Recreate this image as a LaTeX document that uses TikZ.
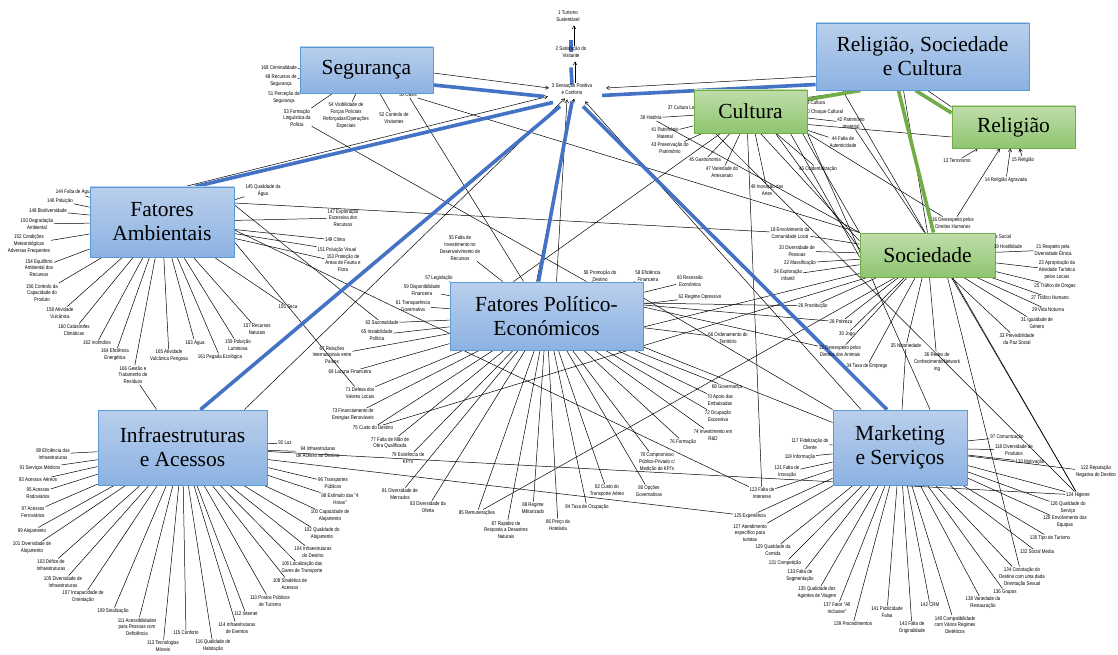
\documentclass[tikz,border=0pt]{standalone}
\usepackage{fontspec}
\setmainfont{Liberation Serif}
\newfontfamily\labfamily[FakeStretch=0.82]{Liberation Sans}
\usetikzlibrary{arrows.meta,calc}
\definecolor{boxedge}{HTML}{5B9BD5}
\definecolor{boxtop}{HTML}{B9CFEC}
\definecolor{boxbot}{HTML}{8CB2E2}
\definecolor{gedge}{HTML}{70AD47}
\definecolor{gtop}{HTML}{BFDDAB}
\definecolor{gbot}{HTML}{8FC56F}
\definecolor{linkblue}{HTML}{4472C4}
\definecolor{linkgreen}{HTML}{70AD47}
\pgfdeclarelayer{wires}
\pgfdeclarelayer{links}
\pgfsetlayers{wires,links,main}
\tikzset{
  lab/.style={font=\labfamily\fontsize{5.4}{6.9}\selectfont, align=center, inner sep=0.8pt},
  catbox/.style={draw=boxedge, line width=0.9pt, top color=boxtop, bottom color=boxbot,
    font=\fontsize{21.5}{24}\selectfont, align=center, inner sep=0pt},
  subbox/.style={catbox, draw=gedge, top color=gtop, bottom color=gbot},
  wire/.style={line width=0.5pt, black},
  feed/.style={wire, -{Straight Barb[length=3pt,width=3.5pt]}},
  bluelink/.style={line width=3.6pt, linkblue},
  greenlink/.style={line width=3.6pt, linkgreen},
}
\begin{document}
\begin{tikzpicture}[x=1pt,y=-1pt]
\useasboundingbox (0,0) rectangle (1118,655);
\begin{pgfonlayer}{wires}
\fill[white] (0,0) rectangle (1118,655);
\end{pgfonlayer}

% labels partly covered by their boxes
\node[lab,anchor=east] (l37) at (701,108) {37 Cultura Local};
\node[lab,anchor=east] (l38) at (826,103) {38 Cultura};
\node[lab,anchor=east] (l40) at (844,112) {40 Choque Cultural};
\node[lab,anchor=east] (l17) at (1012,237) {17 Paz Social};
\node[lab] (l50) at (408,95) {50 Oásis};
\node[lab,anchor=east] (l144) at (93,192) {144 Falta de Água};

% category boxes
\node[catbox,minimum width=133pt,minimum height=46pt] (seg) at (366.5,70) {Segurança};
\node[catbox,minimum width=213pt,minimum height=67pt] (rsc) at (922.5,56.5) {Religião, Sociedade\\e Cultura};
\node[subbox,minimum width=113pt,minimum height=43pt] (cul) at (750.5,111.5) {Cultura};
\node[subbox,minimum width=123pt,minimum height=42pt] (rel) at (1013.5,127) {Religião};
\node[catbox,minimum width=144pt,minimum height=70pt] (amb) at (162,222) {Fatores\\Ambientais};
\node[subbox,minimum width=135pt,minimum height=44pt] (soc) at (927.5,255) {Sociedade};
\node[catbox,minimum width=193pt,minimum height=68pt] (pol) at (546.5,316) {Fatores Político-\\Económicos};
\node[catbox,minimum width=169pt,minimum height=75pt] (inf) at (182.5,447.5) {Infraestruturas\\e Acessos};
\node[catbox,minimum width=134pt,minimum height=75pt] (mkt) at (900,447.5) {Marketing\\e Serviços};

% central chain
\node[lab] (n1) at (568,16) {1 Turismo\\Sustentável};
\node[lab] (n2) at (571,52) {2 Satisfação do\\Visitante};
\node[lab] (n3) at (572,89) {3 Sensação Positiva\\e Conforto};

% Segurança
\node[lab] (l168) at (279,68) {168 Criminalidade};
\node[lab] (l48) at (281,80.5) {48 Recursos de\\Segurança};
\node[lab] (l51) at (284,97.5) {51 Perceção da\\Segurança};
\node[lab] (l53) at (297,118) {53 Formação\\Linguística da\\Polícia};
\node[lab] (l54) at (346,115.5) {54 Visibilidade de\\Forças Policiais\\Reforçadas/Operações\\Especiais};
\node[lab] (l52) at (394,118) {52 Controlo de\\Visitantes};

% Cultura
\node[lab] (l39) at (651,118) {39 História};
\node[lab] (l41) at (665,133) {41 Património\\Material};
\node[lab] (l43) at (670,148) {43 Preservação do\\Património};
\node[lab] (l45) at (705,160) {45 Gastronomia};
\node[lab] (l47) at (722,172) {47 Variedade do\\Artesanato};
\node[lab] (l49) at (767,190) {49 Inovação das\\Artes};
\node[lab] (l46) at (818,169) {46 Ocidentalização};
\node[lab] (l44) at (843,142) {44 Falta de\\Autenticidade};
\node[lab] (l42) at (851,123) {42 Património\\Imaterial};

% Religião
\node[lab] (l13) at (957,161) {13 Terrorismo};
\node[lab] (l15) at (1023,160) {15 Religião};
\node[lab] (l14) at (1006,180) {14 Religião Agravada};
\node[lab] (l16) at (953,223) {16 Desrespeito pelos\\Direitos Humanos};

% Sociedade
\node[lab,anchor=west] (l19) at (993,247) {19 Hostilidade};
\node[lab] (l21) at (1053,250) {21 Respeito pela\\Diversidade Étnica};
\node[lab] (l23) at (1057,270) {23 Apropriação da\\Atividade Turística\\pelos Locais};
\node[lab] (l25) at (1055,286) {25 Tráfico de Drogas};
\node[lab] (l27) at (1050,298) {27 Tráfico Humano};
\node[lab] (l29) at (1048,310) {29 Vida Noturna};
\node[lab] (l31) at (1037,323) {31 Igualdade de\\Género};
\node[lab] (l33) at (1017,339) {33 Previsibilidade\\da Paz Social};
\node[lab] (l36) at (937,362) {36 Redes de\\Conhecimento/Network\\ing};
\node[lab] (l35) at (906,346) {35 Notoriedade};
\node[lab] (l34) at (867,366) {34 Taxa de Emprego};
\node[lab] (l32) at (840,351) {32 Desrespeito pelos\\Direitos dos Animais};
\node[lab] (l30) at (847,334) {30 Jogo};
\node[lab] (l28) at (841,322) {28 Pobreza};
\node[lab] (l26) at (813,306) {26 Prostituição};
\node[lab] (l24) at (788,275) {24 Exploração\\Infantil};
\node[lab] (l22) at (800,263) {22 Massificação};
\node[lab] (l20) at (797,251) {20 Diversidade de\\Pessoas};
\node[lab] (l18) at (790,233) {18 Envolvimento da\\Comunidade Local};

% Fatores Ambientais
\node[lab] (l146) at (60,201) {146 Poluição};
\node[lab] (l148) at (48,211) {148 Biodiversidade};
\node[lab] (l150) at (37,224) {150 Degradação\\Ambiental};
\node[lab] (l152) at (29,244) {152 Condições\\Meteorológicas\\Adversas Frequentes};
\node[lab] (l154) at (39,268) {154 Equilíbrio\\Ambiental dos\\Recursos};
\node[lab] (l156) at (42,293) {156 Controlo da\\Capacidade do\\Produto};
\node[lab] (l158) at (60,313) {158 Atividade\\Vulcânica};
\node[lab] (l160) at (74,330) {160 Catástrofes\\Climáticas};
\node[lab] (l162) at (97,343) {162 Incêndios};
\node[lab] (l164) at (115,355) {164 Eficiência\\Energética};
\node[lab] (l166) at (133,375) {166 Gestão e\\Tratamento de\\Resíduos};
\node[lab] (l165) at (169,356) {165 Atividade\\Vulcânica Perigosa};
\node[lab] (l163) at (195,343) {163 Água};
\node[lab] (l161) at (220,357) {161 Pegada Ecológica};
\node[lab] (l159) at (238,345) {159 Poluição\\Luminosa};
\node[lab] (l157) at (257,329) {157 Recursos\\Naturais};
\node[lab] (l155) at (288,307) {155 Seca};
\node[lab] (l145) at (263,191) {145 Qualidade da\\Água};
\node[lab] (l147) at (343,218) {147 Exploração\\Excessiva dos\\Recursos};
\node[lab] (l149) at (335,240) {149 Clima};
\node[lab] (l151) at (337,250) {151 Poluição Visual};
\node[lab] (l153) at (343,263) {153 Proteção de\\Áreas de Fauna e\\Flora};

% Fatores Político-Económicos
\node[lab] (l55) at (460,248) {55 Falta de\\Investimento no\\Desenvolvimento de\\Recursos};
\node[lab] (l57) at (439,278) {57 Legislação};
\node[lab] (l59) at (422,290) {59 Disponibilidade\\Financeira};
\node[lab] (l61) at (413,306) {61 Transparência\\Governativa};
\node[lab] (l63) at (382,323) {63 Sazonalidade};
\node[lab] (l65) at (377,335) {65 Instabilidade\\Política};
\node[lab] (l67) at (332,355) {67 Relações\\Internacionais entre\\Países};
\node[lab] (l69) at (350,372) {69 Lacuna Financeira};
\node[lab] (l71) at (360,393) {71 Defesa dos\\Valores Locais};
\node[lab] (l73) at (353,415) {73 Financiamento de\\Energias Renováveis};
\node[lab] (l75) at (373,428) {75 Custo do Destino};
\node[lab] (l77) at (390,443) {77 Falta de Mão de\\Obra Qualificada};
\node[lab] (l79) at (408,458) {79 Existência de\\KPI's};
\node[lab] (l81) at (400,494) {81 Diversidade de\\Mercados};
\node[lab] (l83) at (428,507) {83 Diversidade da\\Oferta};
\node[lab] (l85) at (477,513) {85 Remunerações};
\node[lab] (l87) at (506,530) {87 Rapidez de\\Resposta a Desastres\\Naturais};
\node[lab] (l88) at (533,508) {88 Regime\\Militarizado};
\node[lab] (l86) at (558,525) {86 Preço da\\Hotelaria};
\node[lab] (l84) at (587,507) {84 Taxa de Ocupação};
\node[lab] (l82) at (607,491) {82 Custo do\\Transporte Aéreo};
\node[lab] (l80) at (649,491) {80 Opções\\Governativas};
\node[lab] (l78) at (657,462) {78 Compromisso\\Público-Privado c/\\Medição de KPI's};
\node[lab] (l76) at (683,442) {76 Formação};
\node[lab] (l74) at (713,435) {74 Investimento em\\R\&D};
\node[lab] (l72) at (718,416) {72 Ocupação\\Excessiva};
\node[lab] (l70) at (720,400) {70 Apoio das\\Embaixadas};
\node[lab] (l68) at (727,387) {68 Governança};
\node[lab] (l66) at (728,338) {66 Ordenamento do\\Território};
\node[lab] (l62) at (700,297) {62 Regime Opressivo};
\node[lab] (l60) at (690,281) {60 Recessão\\Económica};
\node[lab] (l58) at (648,276) {58 Eficiência\\Financeira};
\node[lab] (l56) at (600,276) {56 Promoção do\\Destino};

% Infraestruturas e Acessos
\node[lab] (l89) at (53,454) {89 Eficiência das\\Infraestruturas};
\node[lab] (l91) at (40,468) {91 Serviços Médicos};
\node[lab] (l93) at (38,480) {93 Acessos Aéreos};
\node[lab] (l95) at (38,493) {95 Acessos\\Rodoviários};
\node[lab] (l97) at (33,512) {97 Acessos\\Ferroviários};
\node[lab] (l99) at (32,531) {99 Alojamento};
\node[lab] (l101) at (32,548) {101 Diversidade de\\Alojamento};
\node[lab] (l103) at (51,565) {103 Défice de\\Infraestruturas};
\node[lab] (l105) at (63,582) {105 Diversidade de\\Infraestruturas};
\node[lab] (l107) at (83,597) {107 Incapacidade de\\Orientação};
\node[lab] (l109) at (113,611) {109 Sinalização};
\node[lab] (l111) at (137,627) {111 Acessibilidades\\para Pessoas com\\Deficiência};
\node[lab] (l113) at (163,646) {113 Tecnologias\\Móveis};
\node[lab] (l115) at (186,633) {115 Conforto};
\node[lab] (l116) at (213,646) {116 Qualidade de\\Habitação};
\node[lab] (l114) at (237,628) {114 Infraestruturas\\de Eventos};
\node[lab] (l112) at (246,614) {112 Internet};
\node[lab] (l110) at (270,601) {110 Postos Públicos\\de Turismo};
\node[lab] (l108) at (290,584) {108 Sinalética de\\Acessos};
\node[lab] (l106) at (302,568) {106 Localização das\\Gares de Transporte};
\node[lab] (l104) at (313,552) {104 Infraestruturas\\do Destino};
\node[lab] (l102) at (322,534) {102 Qualidade do\\Alojamento};
\node[lab] (l100) at (330,516) {100 Capacidade de\\Alojamento};
\node[lab] (l98) at (340,499) {98 Estímulo das "4\\Horas"};
\node[lab] (l96) at (333,483) {96 Transportes\\Públicos};
\node[lab] (l94) at (318,452) {94 Infraestruturas\\de Acesso ao Destino};
\node[lab] (l92) at (285,443) {92 Luz};

% Marketing e Serviços
\node[lab] (l117) at (810,444) {117 Fidelização do\\Cliente};
\node[lab] (l119) at (800,457) {119 Informação};
\node[lab] (l121) at (787,472) {121 Falta de\\Inovação};
\node[lab] (l123) at (762,493) {123 Falta de\\Interesse};
\node[lab] (l125) at (750,516) {125 Experiência};
\node[lab] (l127) at (750,533) {127 Atendimento\\específico para\\turistas};
\node[lab] (l129) at (773,550) {129 Qualidade da\\Comida};
\node[lab] (l131) at (785,563) {131 Competição};
\node[lab] (l133) at (800,576) {133 Falta de\\Segmentação};
\node[lab] (l135) at (817,593) {135 Qualidade dos\\Agentes de Viagem};
\node[lab] (l137) at (837,608) {137 Fator "All\\Inclusive"};
\node[lab] (l139) at (853,624) {139 Procedimentos};
\node[lab] (l141) at (887,612) {141 Publicidade\\Falsa};
\node[lab] (l143) at (912,628) {143 Falta de\\Originalidade};
\node[lab] (l142) at (930,605) {142 CRM};
\node[lab] (l140) at (955,625) {140 Compatibilidade\\com Vários Regimes\\Dietéticos};
\node[lab] (l138) at (983,603) {138 Variedade da\\Restauração};
\node[lab] (l136) at (1005,592) {136 Grupos};
\node[lab] (l134) at (1022,577) {134 Conotação do\\Destino com uma dada\\Orientação Sexual};
\node[lab] (l132) at (1037,552) {132 Social Media};
\node[lab] (l130) at (1050,538) {130 Tipo de Turismo};
\node[lab] (l128) at (1065,522) {128 Envolvimento das\\Equipas};
\node[lab] (l126) at (1068,508) {126 Qualidade do\\Serviço};
\node[lab] (l124) at (1078,495) {124 Higiene};
\node[lab] (l122) at (1096,472) {122 Reputação\\Negativa do Destino};
\node[lab] (l120) at (1030,462) {120 Motivação};
\node[lab] (l118) at (1014,450) {118 Diversidade de\\Produtos};
\node[lab] (l97b) at (1007,437) {97 Comunicação};

% thin connectors from each box to its factors
\begin{pgfonlayer}{wires}
\foreach \t in {l168,l48,l51,l53,l54,l52,l50} \draw[wire] (seg) -- (\t);
\foreach \t in {l144,l146,l148,l150,l152,l154,l156,l158,l160,l162,l164,l166,l165,l163,l161,l159,l157,l155,l145,l147,l149,l151,l153}
  \draw[wire] (amb) -- (\t);
\foreach \t in {l39,l41,l43,l45,l47,l49,l46,l44,l42} \draw[wire] (cul) -- (\t);
\foreach \t in {l18,l20,l22,l24,l26,l28,l30,l32,l34,l35,l36,l33,l31,l29,l27,l25,l23,l21,l19}
  \draw[wire] (soc) -- (\t);
\foreach \t in {l55,l57,l59,l61,l63,l65,l67,l69,l71,l73,l75,l77,l79,l81,l83,l85,l87,l88,l86,l84,l82,l80,l78,l76,l74,l72,l70,l68,l66,l62,l60,l58,l56}
  \draw[wire] (pol) -- (\t);
\foreach \t in {l89,l91,l93,l95,l97,l99,l101,l103,l105,l107,l109,l111,l113,l115,l116,l114,l112,l110,l108,l106,l104,l102,l100,l98,l96,l94,l92}
  \draw[wire] (inf) -- (\t);
\foreach \t in {l117,l119,l121,l123,l125,l127,l129,l131,l133,l135,l137,l139,l141,l143,l142,l140,l138,l136,l134,l132,l130,l128,l126,l124,l122,l120,l118,l97b}
  \draw[wire] (mkt) -- (\t);

% arrows into Religião
\foreach \t in {l13,l14,l15,l16} \draw[feed] (\t) -- (rel);

% cross relations
\draw[wire] (l53) -- ([xshift=40pt]pol.north);
\draw[wire] (l50) -- ([xshift=-23pt]pol.north);
\draw[wire] (l50) -- (soc.north west);
\draw[wire] ([yshift=19pt]amb.east) -- (l18);
\draw[wire] ([yshift=17pt]amb.east) -- (l63);
\draw[wire] ([yshift=-8pt]amb.east) -- ([yshift=17pt]pol.south west);
\draw[wire] ([yshift=-20pt]amb.east) -- (l71);
\draw[wire] (l166) -- (inf);
\draw[wire] ([yshift=-4pt]inf.east) -- (l124);
\draw[wire] ([yshift=-12pt]inf.east) -- (l125);
\draw[wire] ([yshift=18pt]pol.east) -- (mkt.north west);
\draw[wire] ([yshift=13pt]pol.east) -- (l26);
\draw[wire] ([yshift=11pt]pol.east) -- (l28);
\draw[wire] ([yshift=9pt]pol.east) -- (l32);
\draw[wire] ([yshift=-11pt]pol.east) -- ([yshift=4pt]soc.south west);
\draw[wire] ([yshift=-31pt]pol.east) -- ([yshift=25pt]mkt.west);
\draw[wire] ([xshift=-83pt]pol.south) -- (l123);
\draw[wire] ([xshift=10pt]cul.south) -- ([yshift=14pt]soc.west);
\draw[wire] ([xshift=25pt]cul.south) -- ([yshift=6pt]soc.west);
\draw[wire] ([xshift=40pt]cul.south) -- ([yshift=-2pt]soc.west);
\draw[wire] ([xshift=52pt]cul.south) -- (soc.north west);
\draw[wire] ([xshift=-3pt]cul.south) -- (l123);
\draw[wire] ([xshift=-30pt]cul.south) -- ([xshift=-33pt]pol.north);
\draw[wire] ([xshift=-35pt]cul.south) -- (l124);
\draw[wire] (cul.south east) -- (l16);
\draw[wire] (cul.south east) -- ([xshift=30pt]mkt.north);
\draw[wire] ([yshift=-10pt]rel.west) -- ([yshift=-13pt]cul.east);
\draw[wire] (l42) -- ([xshift=-3pt]soc.north);
\draw[wire] (l39) -- (soc.north west);
\draw[wire] ([xshift=-80pt]rsc.south) -- (l124);
\draw[wire] ([xshift=25pt]soc.south) -- (l124);
\draw[wire] ([xshift=20pt]soc.south) -- (l134);
\draw[wire] (l35) -- ([xshift=2pt]mkt.north);
\draw[wire] (l85) -- ([xshift=-32pt]soc.south);
\draw[wire] (l75) -- ([xshift=8pt]soc.south west);
\draw[wire] ([xshift=-19pt]rsc.south) -- (soc.north);
\draw[wire] ([xshift=5pt]rsc.south) -- ([yshift=20pt]rel.west);
\draw[wire] ([yshift=14pt]cul.east) -- ([xshift=-66pt]rsc.south);

% thin arrows towards the central chain
\draw[feed] ([yshift=-3pt]seg.east) -- ($(n3.west)+(-2,-1)$);
\draw[feed] ([yshift=-20pt]rsc.west) -- ($(n3.east)+(13,-1)$);
\draw[feed] ([xshift=23pt]amb.north) -- ($(n3.south west)+(-3,1)$);
\draw[feed] ([xshift=62pt]inf.north) -- ($(n3.south)+(-7,3)$);
\draw[feed] ([xshift=-10pt]pol.north) -- ($(n3.south)+(2,3)$);
\draw[feed] ([xshift=10pt]pol.north) -- ($(n3.south)+(-5,4)$);
\draw[feed] ([xshift=-39pt]mkt.north) -- ($(n3.south)+(13,6)$);
\draw[feed] ($(n3.north)+(3,0)$) -- ($(n2.south)+(4,3)$);
\draw[feed] ($(n2.north)+(3,0)$) -- ($(n1.south)+(6,3)$);
\end{pgfonlayer}

% thick links
\begin{pgfonlayer}{links}
\draw[bluelink] ([yshift=-15pt]seg.east) -- ($(n3.south west)+(-7,1)$);
\draw[bluelink] ([yshift=-28pt]rsc.west) -- ($(n3.south east)+(9,0)$);
\draw[bluelink] ([xshift=33pt]amb.north) -- ($(n3.south west)+(2,7)$);
\draw[bluelink] ([xshift=18pt]inf.north) -- ($(n3.south)+(-12,11)$);
\draw[bluelink] ([xshift=-8pt]pol.north) -- ($(n3.south)+(0,6)$);
\draw[bluelink] ([xshift=-13pt]mkt.north) -- ($(n3.south)+(11,11)$);
\draw[bluelink] ($(n3.north)+(0,2)$) -- ($(n2.south)+(0,9)$);
\draw[bluelink] ($(n2.north)+(0,6)$) -- ($(n2.north)+(0,-6)$);
\draw[greenlink] ([xshift=-62pt]rsc.south) -- ([yshift=12pt]cul.east);
\draw[greenlink] ([xshift=-7pt]rsc.south) -- ([yshift=14pt]rel.west);
\draw[greenlink] ([xshift=-24pt]rsc.south) -- ([xshift=6pt]soc.north);
\end{pgfonlayer}
\end{tikzpicture}
\end{document}
